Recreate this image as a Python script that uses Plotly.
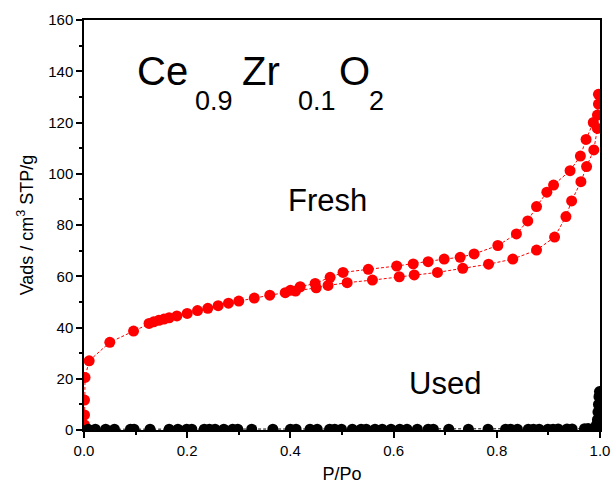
import plotly.graph_objects as go

# Fresh sample: adsorption branch (lower)
fresh_ads_x = [0.001, 0.001, 0.001, 0.002, 0.010, 0.050, 0.096, 0.126, 0.135, 0.145, 0.155,
               0.165, 0.180, 0.200, 0.220, 0.240, 0.260, 0.280, 0.300, 0.330, 0.360, 0.390,
               0.410, 0.450, 0.473, 0.510, 0.559, 0.611, 0.640, 0.685, 0.734, 0.784, 0.831,
               0.877, 0.912, 0.934, 0.945, 0.963, 0.974, 0.988, 0.995, 0.997]
fresh_ads_y = [2.0, 5.9, 11.7, 20.5, 27.0, 34.2, 38.6, 41.6, 42.2, 42.8, 43.3,
               43.8, 44.5, 45.5, 46.6, 47.5, 48.5, 49.5, 50.3, 51.5, 52.6, 53.6,
               54.2, 55.5, 56.4, 57.5, 58.5, 59.8, 60.5, 61.5, 63.1, 64.7, 66.7,
               70.2, 75.3, 83.3, 89.4, 96.9, 102.8, 109.3, 117.7, 127.2]

# Fresh sample: desorption branch (upper)
fresh_des_x = [0.997, 0.995, 0.987, 0.973, 0.962, 0.942, 0.910, 0.897, 0.877, 0.860,
               0.838, 0.802, 0.756, 0.729, 0.698, 0.667, 0.638, 0.606, 0.551, 0.502,
               0.477, 0.448, 0.419, 0.400]
fresh_des_y = [131.0, 122.9, 120.0, 113.4, 106.9, 101.2, 95.6, 92.8, 87.2, 81.6,
               76.5, 72.0, 68.7, 67.4, 66.7, 65.7, 64.8, 64.0, 62.7, 61.5,
               59.6, 57.2, 55.9, 54.5]

# Used sample
used_x = [0.008, 0.022, 0.042, 0.059, 0.090, 0.097, 0.128, 0.165, 0.182, 0.199, 0.209,
          0.233, 0.243, 0.254, 0.271, 0.288, 0.298, 0.325, 0.366, 0.400, 0.411, 0.438,
          0.452, 0.476, 0.486, 0.499, 0.520, 0.537, 0.547, 0.564, 0.578, 0.595, 0.612,
          0.626, 0.646, 0.667, 0.677, 0.707, 0.745, 0.783, 0.817, 0.827, 0.840, 0.861,
          0.871, 0.882, 0.899, 0.909, 0.919, 0.936, 0.946, 0.970, 0.977, 0.991,
          0.993, 0.995, 0.996, 0.997, 0.998, 0.999]
used_y = [0.3, 0.3, 0.3, 0.3, 0.3, 0.3, 0.3, 0.3, 0.3, 0.3, 0.3,
          0.3, 0.3, 0.3, 0.3, 0.3, 0.3, 0.3, 0.3, 0.3, 0.3, 0.3,
          0.3, 0.3, 0.3, 0.3, 0.3, 0.3, 0.3, 0.3, 0.3, 0.3, 0.3,
          0.3, 0.3, 0.3, 0.3, 0.3, 0.3, 0.3, 0.3, 0.3, 0.3, 0.3,
          0.3, 0.3, 0.3, 0.3, 0.4, 0.4, 0.4, 0.5, 0.6, 1.0,
          2.0, 4.0, 7.0, 10.0, 13.0, 15.0]

FONT = "Liberation Sans, Arial, sans-serif"
RED = "#ff0000"

fig = go.Figure()
line_dash = "3px,2px"
for xs, ys, col in [(fresh_ads_x, fresh_ads_y, RED), (fresh_des_x, fresh_des_y, RED),
                    (used_x, used_y, "black")]:
    fig.add_trace(go.Scatter(x=xs, y=ys, mode="lines+markers",
                             line=dict(color=col, width=1, dash=line_dash),
                             marker=dict(color=col, size=11, symbol="circle"),
                             showlegend=False))

# Formula text built from pieces so the subscripts sit low like the original
formula = [("Ce", 40, 0.099, 140.0), ("0.9", 27, 0.211, 128.5),
           ("Zr", 40, 0.302, 140.0), ("0.1", 27, 0.411, 128.5),
           ("O", 40, 0.490, 140.0), ("2", 27, 0.548, 128.5)]
for txt, size, xx, yy in formula:
    fig.add_annotation(x=xx, y=yy, xref="x", yref="y", text=txt, showarrow=False,
                       xanchor="left", yanchor="middle",
                       font=dict(family=FONT, size=size, color="black"))

fig.add_annotation(x=0.471, y=89.5, xref="x", yref="y", text="Fresh", showarrow=False,
                   xanchor="center", yanchor="middle",
                   font=dict(family=FONT, size=31, color="black"))
fig.add_annotation(x=0.7, y=18.0, xref="x", yref="y", text="Used", showarrow=False,
                   xanchor="center", yanchor="middle",
                   font=dict(family=FONT, size=31, color="black"))

fig.update_xaxes(range=[0, 1.0], tickvals=[0, 0.2, 0.4, 0.6, 0.8, 1.0],
                 ticktext=["0.0", "0.2", "0.4", "0.6", "0.8", "1.0"],
                 ticks="outside", ticklen=6, tickwidth=1.5, tickcolor="black",
                 minor=dict(dtick=0.1, tick0=0, ticks="outside", ticklen=3, tickwidth=1.5, tickcolor="black"),
                 showline=True, linecolor="black", linewidth=1.5, mirror=True,
                 showgrid=False, zeroline=False, automargin=False,
                 title=dict(text="P/Po", font=dict(family=FONT, size=18, color="black"), standoff=10),
                 tickfont=dict(family=FONT, size=15, color="black"))
fig.update_yaxes(range=[0, 160], tickvals=[0, 20, 40, 60, 80, 100, 120, 140, 160],
                 ticks="outside", ticklen=6, tickwidth=1.5, tickcolor="black",
                 minor=dict(dtick=10, tick0=0, ticks="outside", ticklen=3, tickwidth=1.5, tickcolor="black"),
                 showline=True, linecolor="black", linewidth=1.5, mirror=True,
                 showgrid=False, zeroline=False, automargin=False,
                 title=dict(text="Vads / cm<sup>3</sup> STP/g", font=dict(family=FONT, size=18, color="black"), standoff=10),
                 tickfont=dict(family=FONT, size=15, color="black"))

fig.update_layout(width=612, height=495, plot_bgcolor="white", paper_bgcolor="white",
                  margin=dict(l=84, r=12, t=20, b=65), showlegend=False)

fig.write_html("out.html")
